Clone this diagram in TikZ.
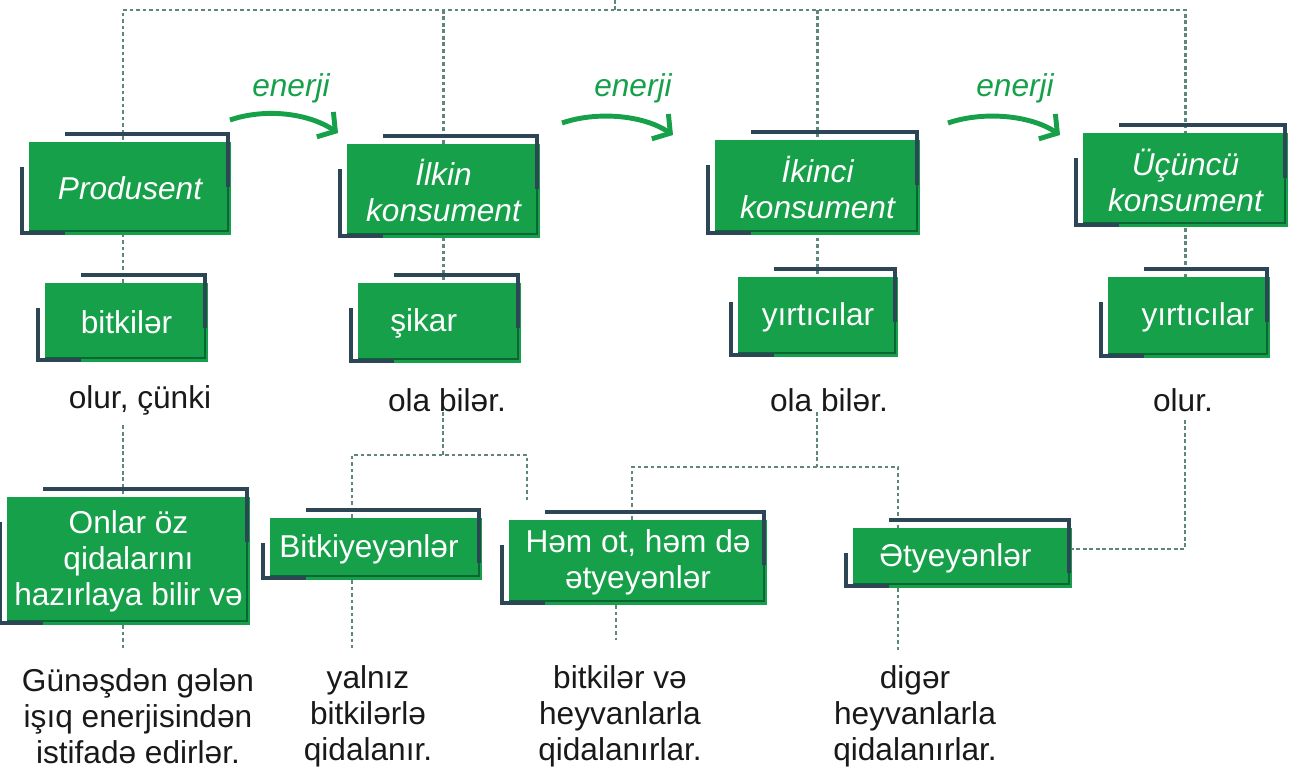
\documentclass[tikz,border=0pt]{standalone}
\usepackage{fontspec}
\setmainfont{Liberation Sans}
\usepackage{tikz}
\usetikzlibrary{arrows.meta,calc,backgrounds}
\definecolor{leaf}{HTML}{17A04A}
\definecolor{deepleaf}{HTML}{0B6636}
\definecolor{navy}{HTML}{2D4656}
\definecolor{dots}{HTML}{5F867B}
\newcommand{\lbl}{\fontsize{18}{20.5}\selectfont}

\begin{document}
\begin{tikzpicture}[x=0.02cm,y=-0.02cm,
  boxsize/.style 2 args={minimum width=#1*0.02cm,minimum height=#2*0.02cm},
  box/.style={fill=leaf,text=white,inner sep=0pt,outer sep=0pt,align=center,font=\lbl},
  level/.style={box,font=\lbl\itshape},
  txt/.style={text=black!90,inner sep=0pt,align=center,font=\lbl},
  energy/.style={text=leaf,inner sep=0pt,font=\lbl\itshape},
  link/.style={dots,line width=1.4pt,dash pattern=on 2.2pt off 1.5pt},
  frame/.style={navy,line width=1.8pt},
  rim/.style={deepleaf,line width=1.6pt},
  flow/.style={leaf,line width=2.8pt,-{Straight Barb[length=7pt,width=17pt]}}]
\useasboundingbox (0,0) rectangle (1289,773);

% levels
\node[level,boxsize={202}{93}] (prod) at (130,188.5) {Produsent};
\node[level,boxsize={193}{94}] (ilkin) at (443.5,191) {İlkin\\konsument};
\node[level,boxsize={205}{95}] (ikinci) at (817.5,187.5) {İkinci\\konsument};
\node[level,boxsize={205}{94}] (ucuncu) at (1185.5,180) {Üçüncü\\konsument};

\node[energy] (en1) at (291,88) {enerji};
\node[energy] (en2) at (633,88) {enerji};
\node[energy] (en3) at (1015,88) {enerji};

% examples
\node[box,boxsize={163}{79}] (bitkiler) at (126.5,322.5) {bitkilər};
\node[box,boxsize={163}{80}] (sikar) at (439.5,323) {şikar\hspace*{18pt}};
\node[box,boxsize={160}{80}] (yirt1) at (818,317) {yırtıcılar};
\node[box,boxsize={162}{81}] (yirt2) at (1189,317.5) {\hspace*{10pt}yırtıcılar};

\node[txt] (olur1) at (140,400) {olur, çünki};
\node[txt] (ola1) at (447,400) {ola bilər.};
\node[txt] (ola2) at (829,400) {ola bilər.};
\node[txt] (olur2) at (1183,400) {olur.};

% food types
\node[box,boxsize={243}{128}] (onlar) at (128.5,561) {Onlar öz\\qidalarını\\hazırlaya bilir və};
\node[box,boxsize={212}{62}] (bitkiy) at (376,549) {Bitkiyeyənlər\hspace*{8pt}};
\node[box,boxsize={258}{85}] (hemot) at (638,562.5) {Həm ot, həm də\\ətyeyənlər};
\node[box,boxsize={219}{60}] (etyey) at (962.5,558) {Ətyeyənlər\hspace*{8pt}};

\node[txt] (gunes) at (138,716) {Günəşdən gələn\\işıq enerjisindən\\istifadə edirlər.};
\node[txt] (yalniz) at (368,716) {yalnız\\bitkilərlə\\qidalanır.};
\node[txt] (bitkve) at (620,716) {bitkilər və\\heyvanlarla\\qidalanırlar.};
\node[txt] (diger) at (915,716) {digər\\heyvanlarla\\qidalanırlar.};

% box frames
\foreach \b in {prod,ilkin,ikinci,ucuncu,bitkiler,sikar,yirt1,yirt2,onlar,bitkiy,hemot,etyey}{
  \draw[rim] ($(\b.south west)+(0,-4)$) -- ($(\b.south east)+(-3,-4)$) -- ($(\b.north east)+(-3,40)$);
  \draw[frame] ($(\b.north west)+(36,-8)$) -- ($(\b.north east)+(-3,-8)$) -- ($(\b.north east)+(-3,45)$);
  \draw[frame] ($(\b.north west)+(-7,25)$) -- ($(\b.south west)+(-7,-2)$) -- ($(\b.south west)+(36,-2)$);
}

% energy arrows
\draw[flow] ($(prod.north east)+(-1,-22)$) .. controls +(35,-12) and +(-30,-20) .. ($(ilkin.north west)+(-9,-11)$);
\draw[flow] ($(ilkin.north east)+(22,-21)$) .. controls +(35,-12) and +(-30,-20) .. ($(ikinci.north west)+(-42,-5)$);
\draw[flow] ($(ikinci.north east)+(28,-17)$) .. controls +(35,-12) and +(-30,-20) .. ($(ucuncu.north west)+(-23,2)$);

% dotted links
\coordinate (stub) at (615,0);
\coordinate (top) at (615,10);
\coordinate (j1) at (443,455);
\coordinate (j2) at (817,467);
\coordinate (t0) at (123,648);
\coordinate (t1) at (352,648);
\coordinate (t2) at (616,640);
\coordinate (t3) at (898,653);
\begin{scope}[on background layer]
\draw[link] (stub) -- (top);
\draw[link] (bitkiler.north -| t0) |- (top) -| (ucuncu.center |- yirt2.north);
\draw[link] (ilkin.center |- top) -- (ilkin.center |- sikar.north);
\draw[link] (ikinci.center |- top) -- (ikinci.center |- yirt1.north);
\draw[link] ($(olur1.south -| t0)+(0,10)$) -- (onlar.north -| t0);
\draw[link] (onlar.south -| t0) -- (t0);
\draw[link] (ola1.south -| j1) -- (j1);
\draw[link] (bitkiy.north -| t1) |- (j1) -| ($(hemot.north west)+(18,-18)$);
\draw[link] (bitkiy.south -| t1) -- (t1);
\draw[link] (ola2.south -| j2) -- (j2);
\draw[link] ($(hemot.north)+(-6,0)$) |- (j2) -| (etyey.north -| t3);
\draw[link] (hemot.south -| t2) -- (t2);
\draw[link] (etyey.south -| t3) -- (t3);
\draw[link] ($(olur2.south)+(2,8)$) |- ($(etyey.north east)+(0,21)$);
\end{scope}
\end{tikzpicture}
\end{document}
